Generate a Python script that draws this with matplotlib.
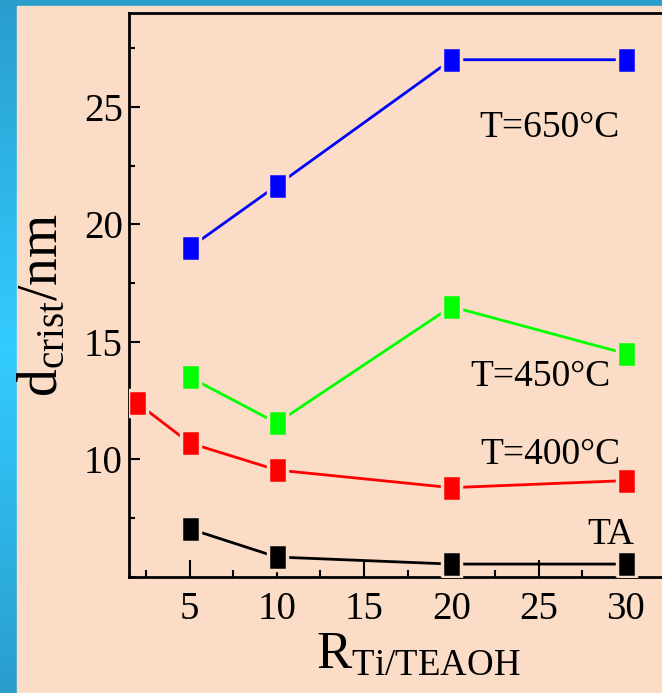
import matplotlib
matplotlib.use('Agg')
import matplotlib.pyplot as plt
from matplotlib.patches import Rectangle
from matplotlib.ticker import MultipleLocator
import numpy as np

# crystallite size vs R(Ti/TEAOH), one series per treatment temperature
R_650 = [5, 10, 20, 30]
d_650 = [19.0, 21.65, 27.0, 27.0]

R_450 = [5, 10, 20, 30]
d_450 = [13.5, 11.55, 16.5, 14.5]

R_400 = [2, 5, 10, 20, 30]
d_400 = [12.4, 10.7, 9.55, 8.8, 9.1]

R_TA = [5, 10, 20, 30]
d_TA = [7.05, 5.85, 5.55, 5.55]

series = [
    (R_650, d_650, '#0000FF', 'T=650\u00b0C', (25.6, 24.1)),
    (R_450, d_450, '#00FF00', 'T=450\u00b0C', (25.1, 13.5)),
    (R_400, d_400, '#FF0000', 'T=400\u00b0C', (25.7, 10.2)),
    (R_TA, d_TA, '#000000', 'TA', (29.15, 6.8)),
]

peach = '#FBDCC7'
plt.rcParams['font.family'] = ['Liberation Serif', 'DejaVu Serif']
plt.rcParams['mathtext.fontset'] = 'custom'
plt.rcParams['mathtext.rm'] = 'Liberation Serif'

fig = plt.figure(figsize=(6.62, 6.93), dpi=100)
fig.patch.set_facecolor(peach)

# slide background: blue gradient band left and top
bg = fig.add_axes([0, 0, 1, 1], zorder=-10)
bg.set_axis_off()
c_dark = np.array([0x2A, 0x9D, 0xCD]) / 255.
c_light = np.array([0x33, 0xCC, 0xFF]) / 255.
t = np.linspace(0, 1, 256)
w = 1 - np.abs(t - 0.5) * 2
grad = c_dark[None, :] * (1 - w[:, None]) + c_light[None, :] * w[:, None]
bg.imshow(grad[:, None, :], extent=[0, 1, 0, 1], aspect='auto', origin='upper')
bg.add_patch(Rectangle((17 / 662, 0), 1, (693 - 6) / 693, color=peach, zorder=2))
bg.set_xlim(0, 1)
bg.set_ylim(0, 1)

ax = fig.add_axes([128.5 / 662, 116 / 693, 541 / 662, 564.3 / 693])
ax.set_facecolor(peach)

# squares are a bit taller than wide in the original
box = [(-0.72, -1), (0.72, -1), (0.72, 1), (-0.72, 1), (-0.72, -1)]

for x, y, col, lab, pos in series:
    ax.plot(x, y, '-', color=col, lw=2.0, zorder=2)
    ax.plot(x, y, ls='none', marker=box, ms=19, mfc=col, mec=peach, mew=2.5, zorder=3)
    ax.text(pos[0], pos[1], lab, fontsize=27, ha='center', va='center')

ax.set_xlim(1.5, 32.5)
ax.set_ylim(5.0, 29.0)
ax.xaxis.set_major_locator(MultipleLocator(5))
ax.xaxis.set_minor_locator(MultipleLocator(2.5))
ax.yaxis.set_major_locator(MultipleLocator(5))
ax.yaxis.set_minor_locator(MultipleLocator(2.5))
ax.set_yticks([10, 15, 20, 25])

ax.tick_params(axis='both', which='both', direction='in', width=1.5, labelsize=28,
               top=False, right=False)
ax.tick_params(axis='x', which='major', length=12, pad=10)
ax.tick_params(axis='x', which='minor', length=5)
ax.tick_params(axis='y', which='major', length=8, pad=4)
ax.tick_params(axis='y', which='minor', length=4)

for s in ['left', 'bottom', 'top']:
    ax.spines[s].set_linewidth(2)
ax.spines['right'].set_visible(False)

ax.set_ylabel(r'$\mathrm{d_{crist}/nm}$', fontsize=40)
ax.yaxis.set_label_coords(-0.11, 0.482)
ax.set_xlabel(r'$\mathrm{R_{Ti/TEAOH}}$', fontsize=38)
ax.xaxis.set_label_coords(0.535, -0.095)
ax.xaxis.label.set_va('top')

fig.savefig('out.png', dpi=100, facecolor=fig.get_facecolor())
